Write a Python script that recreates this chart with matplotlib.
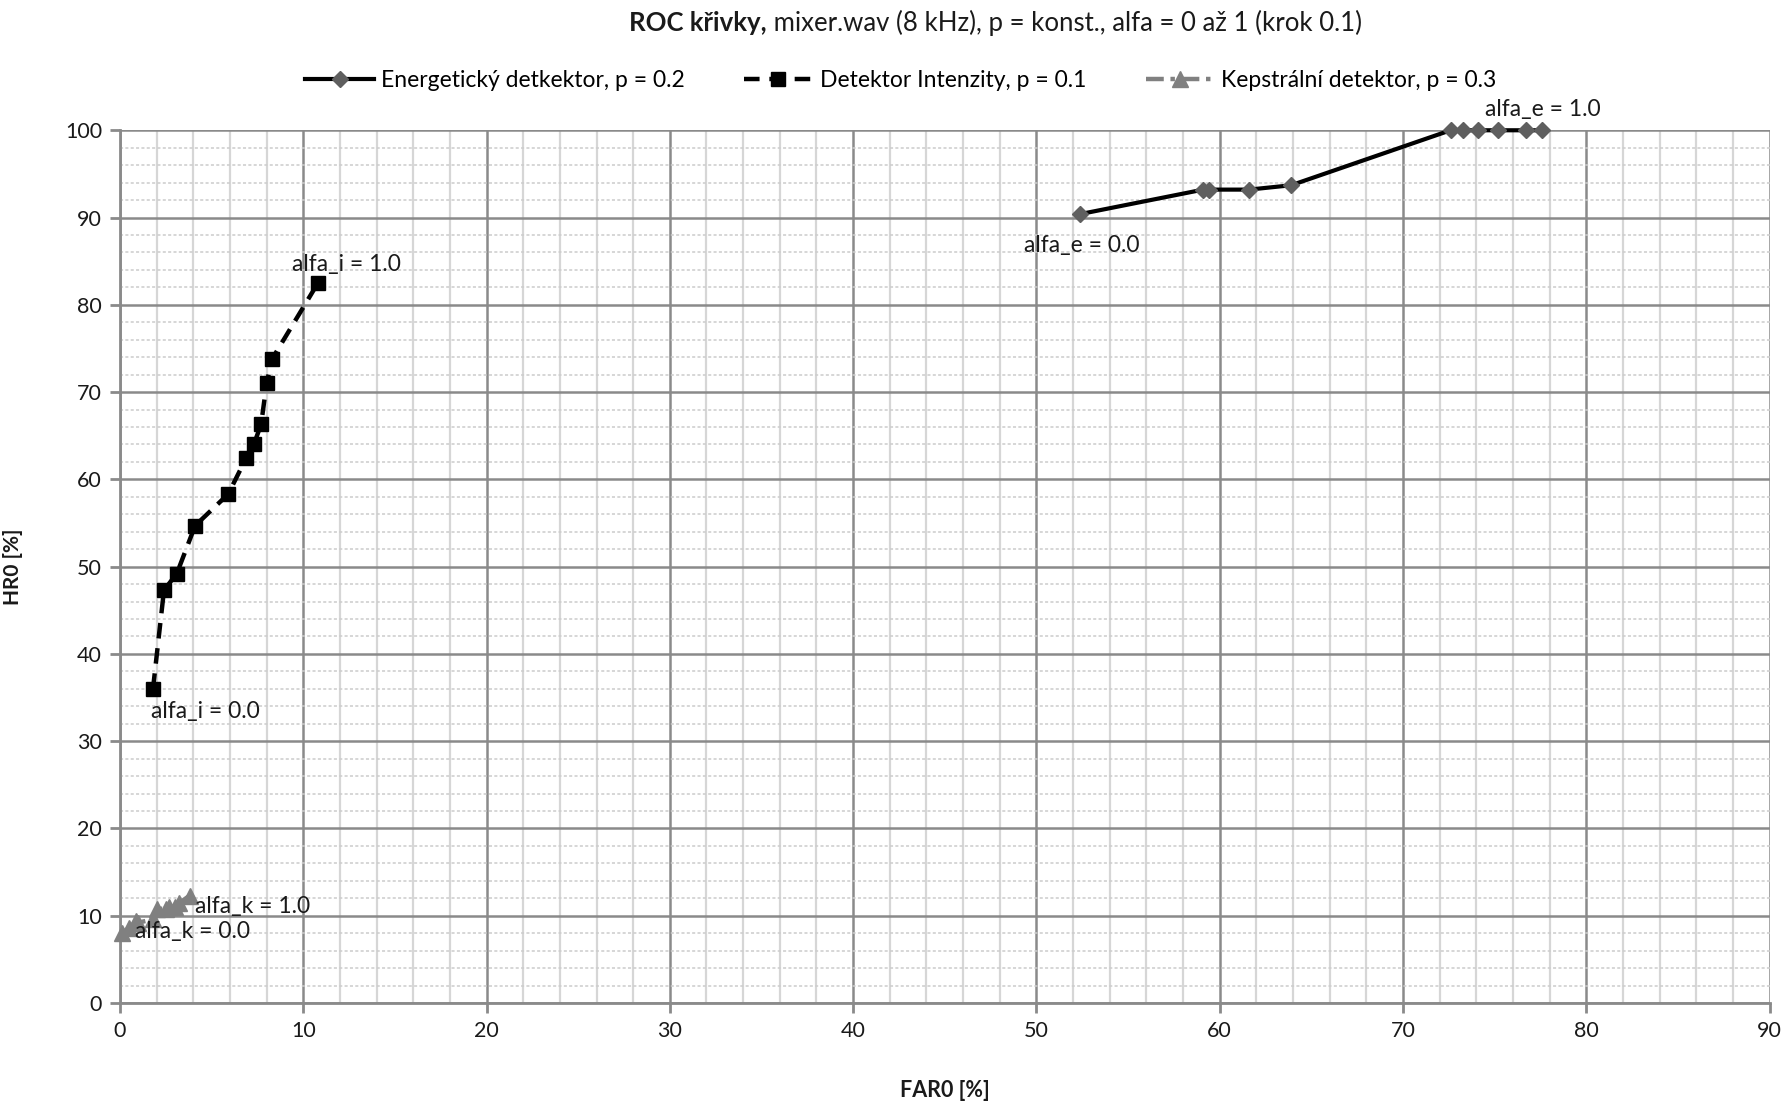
import matplotlib
matplotlib.use("Agg")
import matplotlib.pyplot as plt
from matplotlib.ticker import MultipleLocator

plt.rcParams['font.family'] = ['Lato', 'DejaVu Sans']

# Data (alfa = 0.0 .. 1.0, step 0.1)
energy_far = [52.4, 59.1, 59.4, 61.6, 63.9, 72.6, 73.3, 74.1, 75.2, 76.7, 77.6]
energy_hr = [90.4, 93.2, 93.2, 93.2, 93.7, 100.0, 100.0, 100.0, 100.0, 100.0, 100.0]

intens_far = [1.8, 2.4, 3.1, 4.1, 5.9, 6.9, 7.3, 7.7, 8.0, 8.3, 10.8]
intens_hr = [36.0, 47.3, 49.2, 54.7, 58.3, 62.5, 64.0, 66.3, 71.0, 73.8, 82.5]

kep_far = [0.1, 0.5, 0.9, 1.0, 1.8, 2.0, 2.5, 2.7, 3.0, 3.2, 3.8]
kep_hr = [8.0, 8.6, 9.4, 9.2, 9.6, 10.8, 10.8, 11.0, 11.0, 11.4, 12.3]

labels = ["Energetický detkektor, p = 0.2", "Detektor Intenzity, p = 0.1",
          "Kepstrální detektor, p = 0.3"]
x_ticks = list(range(0, 91, 10))
y_ticks = list(range(0, 101, 10))

fig = plt.figure(figsize=(17.91, 11.04), dpi=100)
ax = fig.add_axes([0.067, 0.0915, 0.921, 0.7905])

ax.set_xlim(0, 90)
ax.set_ylim(0, 100)
ax.set_xticks(x_ticks)
ax.set_yticks(y_ticks)
ax.xaxis.set_minor_locator(MultipleLocator(2))
ax.yaxis.set_minor_locator(MultipleLocator(2))

ax.grid(which='minor', axis='x', color='#d6d6d6', linewidth=1.6, linestyle='-', zorder=0)
ax.grid(which='minor', axis='y', color='#cccccc', linewidth=1.1, linestyle=(0, (2, 1.5)), zorder=0)
ax.grid(which='major', axis='both', color='#8a8a8a', linewidth=1.8, linestyle='-', zorder=1)
ax.set_axisbelow(True)

for s in ['top', 'right']:
    ax.spines[s].set_visible(False)
for s in ['left', 'bottom']:
    ax.spines[s].set_color('#8a8a8a')
    ax.spines[s].set_linewidth(2)

ax.tick_params(which='major', length=7, width=2, color='#8a8a8a', labelsize=15.5,
               labelcolor='#1a1a1a', pad=6)
ax.tick_params(which='minor', length=0)

ax.plot(energy_far, energy_hr, color='black', linewidth=3, marker='D', markersize=8,
        markerfacecolor='#5f5f5f', markeredgecolor='#5f5f5f', label=labels[0], zorder=4,
        clip_on=False)
ax.plot(intens_far, intens_hr, color='black', linewidth=3.2, linestyle=(0, (3.5, 2.2)),
        marker='s', markersize=10, markerfacecolor='black', markeredgecolor='black',
        label=labels[1], zorder=5)
ax.plot(kep_far, kep_hr, color='#808080', linewidth=3.2, linestyle=(0, (4, 1.5, 1, 1.5)),
        marker='^', markersize=11, markerfacecolor='#808080', markeredgecolor='#808080',
        label=labels[2], zorder=4, clip_on=False)

tk = dict(fontsize=16.5, color='#1a1a1a', zorder=6)
ax.text(9.4, 84.6, "alfa_i = 1.0", ha='left', va='center', **tk)
ax.text(1.7, 33.4, "alfa_i = 0.0", ha='left', va='center', **tk)
ax.text(74.5, 102.4, "alfa_e = 1.0", ha='left', va='center', clip_on=False, **tk)
ax.text(49.3, 86.8, "alfa_e = 0.0", ha='left', va='center', **tk)
ax.text(4.1, 11.0, "alfa_k = 1.0", ha='left', va='center', **tk)
ax.text(0.8, 8.2, "alfa_k = 0.0", ha='left', va='center', **tk)

ax.set_xlabel("FAR0 [%]", fontsize=15.5, fontweight='bold', labelpad=28, color='#1a1a1a')
ax.set_ylabel("HR0 [%]", fontsize=15, fontweight='bold', labelpad=30, color='#1a1a1a')

leg = fig.legend(loc='center', bbox_to_anchor=(0.503, 0.927), ncol=3, frameon=False,
                 fontsize=16.5, handlelength=3.0, columnspacing=2.6, handletextpad=0.3)

# Title with mixed weight
t1 = fig.text(0.0, 0.979, "ROC křivky,", fontsize=18.5, fontweight='bold', ha='left', va='center',
              color='#1a1a1a')
t2 = fig.text(0.0, 0.979, " mixer.wav (8 kHz), p = konst., alfa = 0 až 1 (krok 0.1)", fontsize=18.5,
              ha='left', va='center', color='#1a1a1a')
fig.canvas.draw()
r = fig.canvas.get_renderer()
w1 = t1.get_window_extent(r).width
w2 = t2.get_window_extent(r).width
W = fig.bbox.width
cx = 0.556 * W
start = cx - (w1 + w2) / 2
t1.set_x(start / W)
t2.set_x((start + w1) / W)

fig.savefig("out.png", dpi=100)
